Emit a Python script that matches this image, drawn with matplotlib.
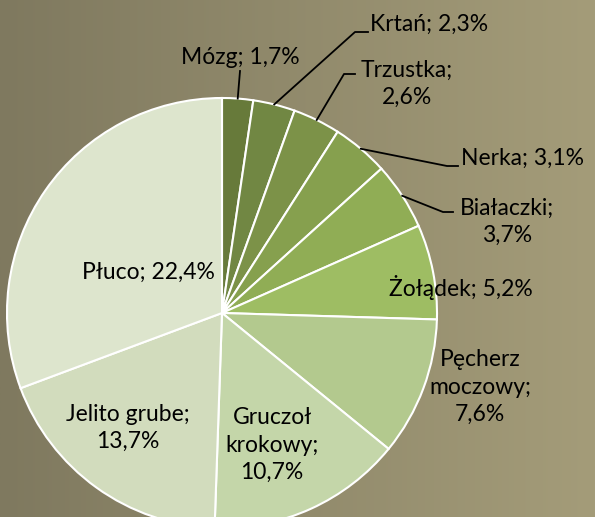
import matplotlib.pyplot as plt
import numpy as np
from matplotlib.colors import LinearSegmentedColormap

plt.rcParams['font.family'] = ['Lato', 'DejaVu Sans']

names = ['Mózg', 'Krtań', 'Trzustka', 'Nerka', 'Białaczki', 'Żołądek',
         'Pęcherz moczowy', 'Gruczoł krokowy', 'Jelito grube', 'Płuco']
values = [1.7, 2.3, 2.6, 3.1, 3.7, 5.2, 7.6, 10.7, 13.7, 22.4]
labels = ['Mózg; 1,7%', 'Krtań; 2,3%', 'Trzustka;\n2,6%', 'Nerka; 3,1%',
          'Białaczki;\n3,7%', 'Żołądek; 5,2%', 'Pęcherz\nmoczowy;\n7,6%',
          'Gruczoł\nkrokowy;\n10,7%', 'Jelito grube;\n13,7%', 'Płuco; 22,4%']
colors = ['#677a3a', '#718743', '#7c9248', '#86a04e', '#90ad55', '#9ebd63',
          '#b3c98e', '#c4d6a9', '#d2dcbd', '#dde5cd']

W, H = 595, 517
cx, cy, R = 222, H - 313, 215

fig = plt.figure(figsize=(W / 100, H / 100), dpi=100)
ax = fig.add_axes([0, 0, 1, 1])

# horizontal background gradient
grad = np.linspace(0, 1, 256)[None, :]
bg = LinearSegmentedColormap.from_list('bg', ['#7f795f', '#a49c79'])
ax.imshow(grad, extent=(0, W, 0, H), cmap=bg, aspect='auto', zorder=0)

wedges, _ = ax.pie(values, colors=colors, startangle=90, counterclock=False,
                   center=(cx, cy), radius=R,
                   wedgeprops=dict(edgecolor='white', linewidth=1.5))
ax.set_xlim(0, W)
ax.set_ylim(0, H)
ax.axis('off')

# label placement (pixel coords from top), leader elbow/end for outside ones
text_pos = [(240, 57), (370, 24), (407, 84), (461, 158), (507, 222),
            (461, 287), (480, 387), (272, 445), (128, 428), (148, 272)]
text_ha = ['center', 'left', 'center', 'left', 'center',
           'center', 'center', 'center', 'center', 'center']
leaders = {0: [(240, 71)], 1: [(355, 32), (368, 32)], 2: [(344, 74), (355, 74)],
           3: [(447, 166), (458, 166)], 4: [(443, 212), (453, 212)]}

for i, w in enumerate(wedges):
    x, y = text_pos[i]
    ax.text(x, H - y, labels[i], ha=text_ha[i], va='center', fontsize=16.5,
            color='black', linespacing=1.38, zorder=5)
    if i in leaders:
        ang = np.deg2rad((w.theta1 + w.theta2) / 2)
        sx, sy = cx + R * np.cos(ang), cy + R * np.sin(ang)
        pts = [(sx, sy)] + [(px, H - py) for px, py in leaders[i]]
        xs, ys = zip(*pts)
        ax.plot(xs, ys, color='black', lw=1.3, zorder=4)

fig.savefig('out.png', dpi=100)
